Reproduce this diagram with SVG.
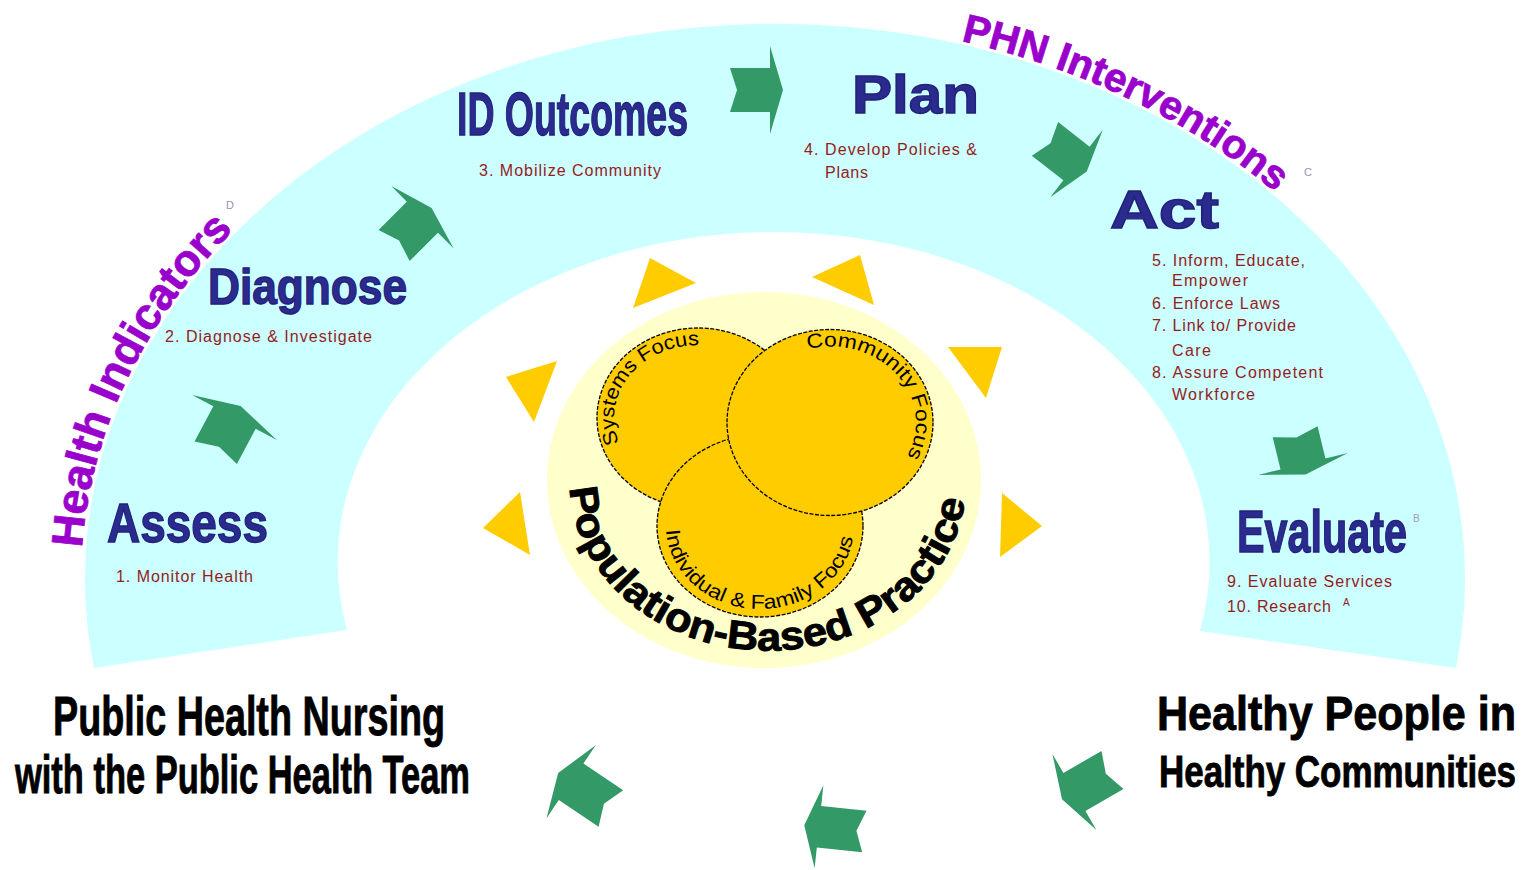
<svg xmlns="http://www.w3.org/2000/svg" width="1528" height="870" viewBox="0 0 1528 870">
<style>
.title{font-family:"Liberation Sans",Arial,sans-serif;font-weight:bold;fill:#2B2B8F;stroke:#22227A;stroke-width:1.4}
.item{font-family:"Liberation Sans",Arial,sans-serif;font-size:16px;fill:#941C1C}
.arclabel{font-family:"Liberation Sans",Arial,sans-serif;font-weight:bold;fill:#9900CC;stroke:#9900CC;stroke-width:0.8}
.big{font-family:"Liberation Sans",Arial,sans-serif;font-weight:bold;fill:#000;stroke:#000;stroke-width:0.9}
.focus{font-family:"Liberation Sans",Arial,sans-serif;font-size:20px;fill:#000}
.sup{font-family:"Liberation Sans",Arial,sans-serif;font-size:11px;fill:#A090B0}
.ray{fill:#FFCC00}
.venn{fill:#FFCC00;stroke:#000;stroke-width:1.3;stroke-dasharray:4 1.5}
.arrow{fill:#339966}
</style>
<defs>
<polygon id="arr" points="-40,-22 0,-22 0,-44 13,0 0,44 0,22 -40,22 -33,0"/>
<path id="hiPath" d="M 82,548 A 694 559 0 0 1 775,21"/>
<path id="phnPath" d="M 961,41 A 694 559 0 0 1 1469,580"/>
<path id="sysPath" d="M 619.1,443 A 84 73 0 0 1 740,354.8"/>
<path id="comPath" d="M 807.7,349.1 A 86 76 0 0 1 873,488.3"/>
<path id="indPath" d="M 666,526 A 94 83 0 0 0 854,526"/>
<path id="popPath" d="M 570.1,487.9 A 198 168 0 0 0 966,482"/>
</defs>
<rect width="1528" height="870" fill="#FFFFFF"/>
<g id="arch">
<path d="M 94,668 A 690 555 0 1 1 1456,668 L 1200,631 A 436 330 0 1 0 347,630 Z" fill="#CCFFFF"/>
</g>
<g id="health-indicators">
<text class="arclabel" font-size="44" textLength="360" lengthAdjust="spacingAndGlyphs"><textPath href="#hiPath">Health Indicators</textPath></text>
<text class="sup" x="226" y="209">D</text>
</g>
<g id="phn-interventions">
<text class="arclabel" font-size="40" textLength="352" lengthAdjust="spacingAndGlyphs"><textPath href="#phnPath">PHN Interventions</textPath></text>
<text class="sup" x="1304" y="176">C</text>
</g>
<g id="assess">
<text class="title" x="107" y="542" font-size="56" textLength="161" lengthAdjust="spacingAndGlyphs">Assess</text>
<text class="item" x="116" y="582" textLength="137">1. Monitor Health</text>
</g>
<g id="diagnose">
<text class="title" x="208" y="304" font-size="50" textLength="199" lengthAdjust="spacingAndGlyphs">Diagnose</text>
<text class="item" x="165" y="342" textLength="207">2. Diagnose &amp; Investigate</text>
</g>
<g id="id-outcomes">
<text class="title" x="457" y="135" font-size="62" textLength="231" lengthAdjust="spacingAndGlyphs">ID Outcomes</text>
<text class="item" x="479" y="176" textLength="182">3. Mobilize Community</text>
</g>
<g id="plan">
<text class="title" x="852" y="113" font-size="53" textLength="127" lengthAdjust="spacingAndGlyphs">Plan</text>
<text class="item" x="804" y="155" textLength="173">4. Develop Policies &amp;</text>
<text class="item" x="825" y="178" textLength="43">Plans</text>
</g>
<g id="act">
<text class="title" x="1110" y="228" font-size="53" textLength="109" lengthAdjust="spacingAndGlyphs">Act</text>
<text class="item" x="1152" y="266" textLength="153">5. Inform, Educate,</text>
<text class="item" x="1172" y="286" textLength="76">Empower</text>
<text class="item" x="1152" y="309" textLength="128">6. Enforce Laws</text>
<text class="item" x="1152" y="331" textLength="144">7. Link to/ Provide</text>
<text class="item" x="1172" y="356" textLength="39">Care</text>
<text class="item" x="1152" y="378" textLength="171">8. Assure Competent</text>
<text class="item" x="1172" y="400" textLength="83">Workforce</text>
</g>
<g id="evaluate">
<text class="title" x="1237" y="552" font-size="60" textLength="170" lengthAdjust="spacingAndGlyphs">Evaluate</text>
<text class="sup" x="1413" y="522" style="font-size:10px;fill:#A0A0B0">B</text>
<text class="item" x="1227" y="587" textLength="165">9. Evaluate Services</text>
<text class="item" x="1227" y="612" textLength="104">10. Research</text>
<text class="item" x="1343" y="606" style="font-size:10px">A</text>
</g>
<g id="sun-rays">
<polygon class="ray" points="650,258 696,283 633,308"/>
<polygon class="ray" points="860,255 874,305 812,277"/>
<polygon class="ray" points="506,377 557,361 534,422"/>
<polygon class="ray" points="948,347 1002,347 986,398"/>
<polygon class="ray" points="520,492 483,528 530,555"/>
<polygon class="ray" points="1002,493 1042,526 1000,557"/>
</g>
<g id="center">
<ellipse cx="764" cy="480" rx="217" ry="188" fill="#FFFFCC"/>
</g>
<g id="systems-focus">
<ellipse class="venn" cx="698" cy="418" rx="101" ry="90"/>
</g>
<g id="individual-focus">
<ellipse class="venn" cx="760" cy="526" rx="103" ry="91"/>
</g>
<g id="community-focus">
<ellipse class="venn" cx="830" cy="422.5" rx="103" ry="93"/>
<text class="focus" textLength="185" lengthAdjust="spacingAndGlyphs"><textPath href="#comPath">Community Focus</textPath></text>
</g>
<g id="systems-focus-label">
<text class="focus" textLength="150" lengthAdjust="spacingAndGlyphs"><textPath href="#sysPath">Systems Focus</textPath></text>
</g>
<g id="individual-focus-label">
<text class="focus" textLength="262" lengthAdjust="spacingAndGlyphs"><textPath href="#indPath" startOffset="4">Individual &amp; Family Focus</textPath></text>
</g>
<g id="population-based">
<text class="big" font-size="40" textLength="553" lengthAdjust="spacingAndGlyphs"><textPath href="#popPath">Population-Based Practice</textPath></text>
</g>
<g id="phn-team">
<text class="big" x="53" y="735" font-size="56" textLength="392" lengthAdjust="spacingAndGlyphs">Public Health Nursing</text>
<text class="big" x="15" y="793" font-size="53" textLength="455" lengthAdjust="spacingAndGlyphs">with the Public Health Team</text>
</g>
<g id="healthy-people">
<text class="big" x="1157" y="730" font-size="49" textLength="359" lengthAdjust="spacingAndGlyphs">Healthy People in</text>
<text class="big" x="1159" y="787" font-size="45" textLength="357" lengthAdjust="spacingAndGlyphs">Healthy Communities</text>
</g>
<g id="connectors">
<use href="#arr" class="arrow" transform="translate(234.5,417.5) rotate(-62) scale(1,1.09)"/>
<use href="#arr" class="arrow" transform="translate(422.4,217.2) rotate(-45)"/>
<use href="#arr" class="arrow" transform="translate(770,90)"/>
<use href="#arr" class="arrow" transform="translate(1076.5,163.5) rotate(38) scale(1,0.97)"/>
<use href="#arr" class="arrow" transform="translate(1303,464) rotate(76.3) scale(0.83,1.05)"/>
<use href="#arr" class="arrow" transform="translate(1074.4,792) rotate(150) scale(1.1,1)"/>
<use href="#arr" class="arrow" transform="translate(819,826.7) rotate(186) scale(1.14,0.95)"/>
<use href="#arr" class="arrow" transform="translate(571.1,781.7) rotate(-146) scale(1.2,1)"/>
</g>
</svg>
